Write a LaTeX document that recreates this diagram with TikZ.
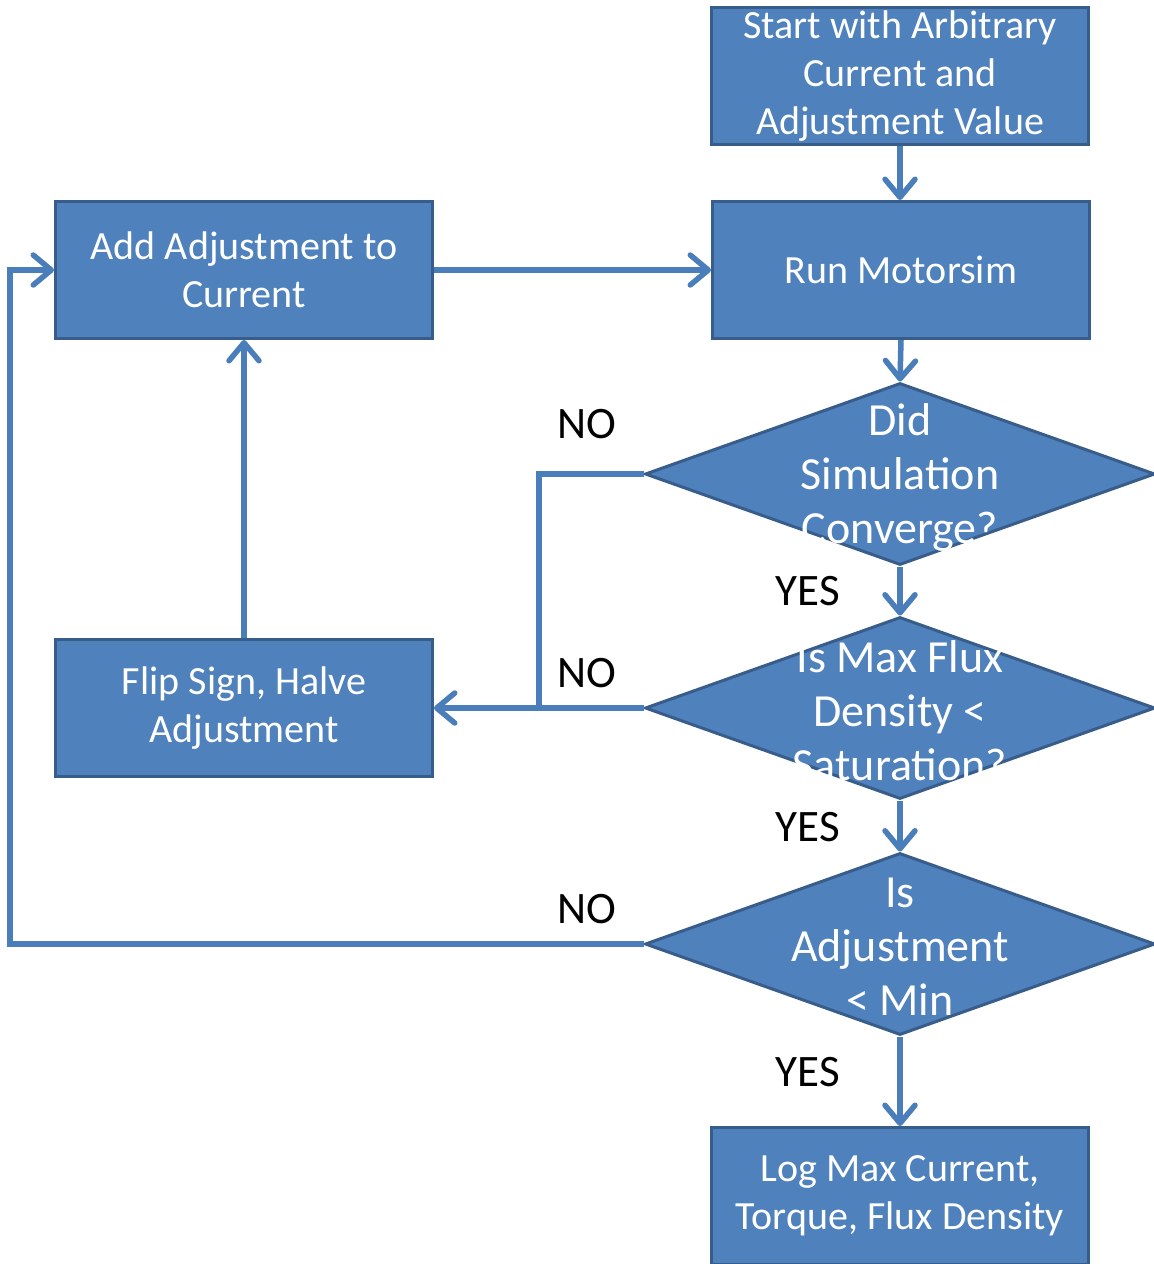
\documentclass[tikz,border=0pt]{standalone}
\usepackage{fontspec}
\setmainfont{Carlito}
\usetikzlibrary{arrows.meta,shapes.geometric}

\definecolor{boxfill}{HTML}{4F81BD}
\definecolor{boxline}{HTML}{385D8A}
\definecolor{flowline}{HTML}{4A7EBB}

\tikzset{
  box/.style={rectangle,fill=boxfill,draw=boxline,line width=1.5pt,
    minimum width=188.5pt,minimum height=68.5pt,inner sep=0pt,
    text=white,align=center,font=\fontsize{20}{24}\selectfont},
  decision/.style={diamond,fill=boxfill,draw=boxline,line width=1.5pt,
    minimum width=255pt,minimum height=91pt,inner sep=0pt},
  dtext/.style={text=white,align=center,yshift=-1.5pt,
    font=\fontsize{23}{27}\selectfont},
  answer/.style={font=\fontsize{22.5}{24}\selectfont},
  flow/.style={draw=flowline,line width=2.75pt,
    -{Straight Barb[length=9pt,width=15pt,round]}},
  plain/.style={draw=flowline,line width=2.75pt}
}

\begin{document}
\begin{tikzpicture}[x=0.5pt,y=-0.5pt]
\useasboundingbox (0,0) rectangle (1154,1264);

\node[box] (start) at (900,76) {Start with Arbitrary\\Current and\\Adjustment Value};
\node[box] (run) at (901,270) {Run Motorsim};
\node[box] (add) at (244,270) {Add Adjustment to\\Current};
\node[box] (flip) at (244,708) {Flip Sign, Halve\\Adjustment};
\node[box] (log) at (900,1196) {Log Max Current,\\Torque, Flux Density};

% decisions, text laid over the diamonds
\node[decision] (conv) at (900,474) {};
\node[dtext] (convtxt) at (conv) {Did\\Simulation\\Converge?};
\node[decision] (sat) at (900,708) {};
\node[dtext] (sattxt) at (sat) {Is Max Flux\\Density <\\Saturation?};
\node[decision] (adj) at (900,944) {};
\node[dtext] (adjtxt) at (adj) {Is\\Adjustment\\< Min};

\node[answer] (no1) at (587,424) {NO};
\node[answer] (no2) at (587,673) {NO};
\node[answer] (no3) at (587,909) {NO};
\node[answer] (yes1) at (808,591) {YES};
\node[answer] (yes2) at (808,827) {YES};
\node[answer] (yes3) at (808,1072) {YES};

\coordinate (join) at (539,708);
\coordinate (back) at (10,944);

\draw[flow] (start) -- (start.south |- run.north);
\draw[flow] (add) -- (run);
\draw[flow] (run.south) -- (conv.north);
\draw[flow] (conv.south) -- (sat.north);
\draw[flow] (sat.south) -- (adj.north);
\draw[flow] (adj.south) -- (log.north);
\draw[plain] (conv.west) -| (join);
\draw[flow] (sat.west) -- (flip.east);
\draw[flow] (flip) -- (add);
\draw[flow] (adj.west) -- (back) |- (add.west);
\end{tikzpicture}
\end{document}
